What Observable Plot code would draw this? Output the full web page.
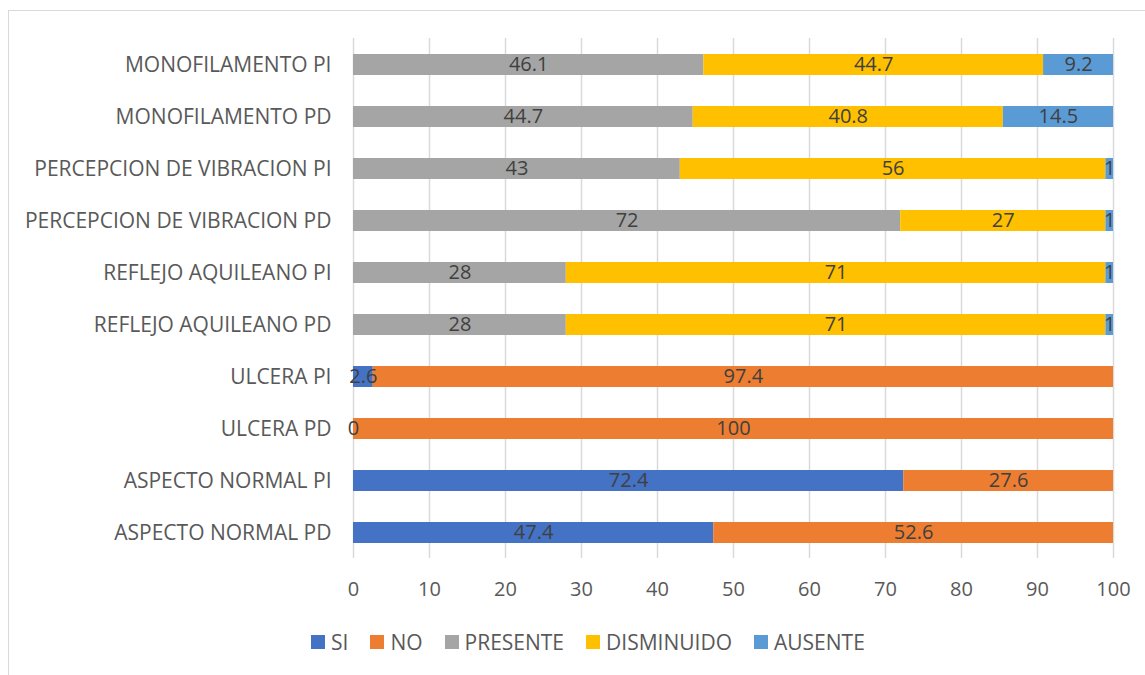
<!DOCTYPE html>
<html><head><meta charset="utf-8">
<script src="https://cdn.jsdelivr.net/npm/d3@7"></script>
<script src="https://cdn.jsdelivr.net/npm/@observablehq/plot@0.6"></script>
<style>
body{margin:0;background:#fff;font-family:"Open Sans",sans-serif;}
#frame{position:absolute;left:8px;top:10px;width:1200px;height:700px;border-left:1.5px solid #d9d9d9;border-top:1.5px solid #d9d9d9;}
#chart{position:absolute;left:0;top:0;}
#legend{position:absolute;top:627px;left:311px;height:30px;display:flex;align-items:center;font-size:21px;color:#595959;white-space:nowrap;}
#legend .item{display:flex;align-items:center;margin-right:22px;}
#legend .sw{width:14px;height:14px;margin-right:6px;}
</style></head>
<body>
<div id="frame"></div>
<div id="chart"></div>
<div id="legend"></div>
<script>
const categories = ["MONOFILAMENTO PI","MONOFILAMENTO PD","PERCEPCION DE VIBRACION PI","PERCEPCION DE VIBRACION PD","REFLEJO AQUILEANO PI","REFLEJO AQUILEANO PD","ULCERA PI","ULCERA PD","ASPECTO NORMAL PI","ASPECTO NORMAL PD"];
const series = ["SI","NO","PRESENTE","DISMINUIDO","AUSENTE"];
const colors = ["#4472C4","#ED7D31","#A5A5A5","#FFC000","#5B9BD5"];
const si         = [null,null,null,null,null,null,2.6,0,72.4,47.4];
const no         = [null,null,null,null,null,null,97.4,100,27.6,52.6];
const presente   = [46.1,44.7,43,72,28,28,null,null,null,null];
const disminuido = [44.7,40.8,56,27,71,71,null,null,null,null];
const ausente    = [9.2,14.5,1,1,1,1,null,null,null,null];
const xTicks = [0,10,20,30,40,50,60,70,80,90,100];

const valuesBySeries = [si, no, presente, disminuido, ausente];
const rows = [];
categories.forEach((c, i) => {
  series.forEach((s, j) => {
    const v = valuesBySeries[j][i];
    if (v !== null) rows.push({cat: c, series: s, value: v});
  });
});

const chart = Plot.plot({
  width: 1145,
  height: 620,
  marginLeft: 353,
  marginRight: 32,
  marginTop: 38,
  marginBottom: 62,
  style: {fontFamily: "'Open Sans', sans-serif", fontSize: "20px", color: "#595959", background: "transparent"},
  x: {domain: [0, 100], ticks: xTicks, tickFormat: d => String(d), label: null},
  y: {domain: categories, paddingInner: 0.6, paddingOuter: 0.3, label: null},
  color: {domain: series, range: colors},
  marks: [
    Plot.gridX(xTicks, {stroke: "#d9d9d9", strokeOpacity: 1, strokeWidth: 1.5}),
    Plot.axisX({ticks: xTicks, tickSize: 0, tickPadding: 23, tickFormat: d => String(d), label: null, fill: "#595959"}),
    Plot.axisY({tickSize: 0, tickPadding: 22, label: null, fill: "#595959", fontSize: 21}),
    Plot.barX(rows, Plot.stackX({x: "value", y: "cat", z: "series", fill: "series", order: series})),
    Plot.text(rows, Plot.stackX({x: "value", y: "cat", z: "series", order: series, text: d => String(d.value), fill: "#404040", fontSize: 20}))
  ]
});
document.getElementById("chart").appendChild(chart);

const legend = document.getElementById("legend");
series.forEach((s, j) => {
  const item = document.createElement("div");
  item.className = "item";
  const sw = document.createElement("div");
  sw.className = "sw";
  sw.style.background = colors[j];
  const t = document.createElement("span");
  t.textContent = s;
  item.appendChild(sw);
  item.appendChild(t);
  legend.appendChild(item);
});
</script>
</body></html>
